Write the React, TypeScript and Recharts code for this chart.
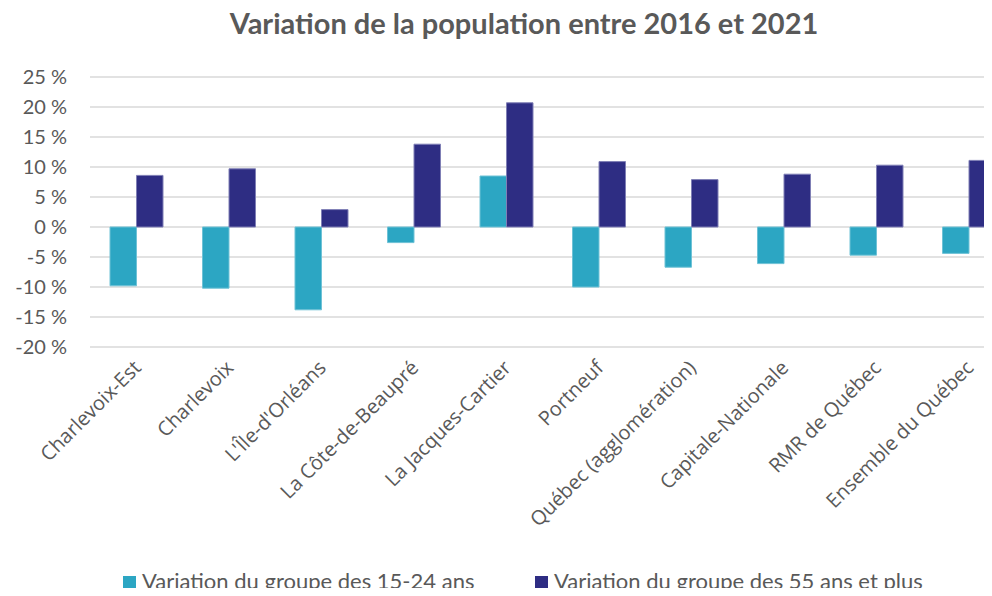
import { Bar, BarChart, CartesianGrid, XAxis, YAxis } from "recharts"

const categories = [
  "Charlevoix-Est",
  "Charlevoix",
  "L'Île-d'Orléans",
  "La Côte-de-Beaupré",
  "La Jacques-Cartier",
  "Portneuf",
  "Québec (agglomération)",
  "Capitale-Nationale",
  "RMR de Québec",
  "Ensemble du Québec",
]
const youth = [-9.8, -10.2, -13.8, -2.6, 8.5, -10.0, -6.7, -6.1, -4.7, -4.4]
const seniors = [8.6, 9.7, 2.9, 13.8, 20.7, 10.9, 7.9, 8.8, 10.3, 11.1]
const yTicks = [-20, -15, -10, -5, 0, 5, 10, 15, 20, 25]

const seriesNames = ["Variation du groupe des 15-24 ans", "Variation du groupe des 55 ans et plus"]
const LIGHT = "#2CA6C3"
const DARK = "#2E2D83"
const TEXT = "#595959"

const data = categories.map((name, i) => ({ name, youth: youth[i], seniors: seniors[i] }))

// rotated category label, anchored at its end
function CategoryTick({ x, y, payload }: any) {
  const ax = x + 6
  const ay = y + 22
  return (
    <text
      x={ax}
      y={ay}
      textAnchor="end"
      transform={`rotate(-45, ${ax}, ${ay})`}
      fill={TEXT}
      fontSize={20}
      fontFamily="'Open Sans', sans-serif"
    >
      {payload.value}
    </text>
  )
}

export default function App() {
  return (
    <div style={{ position: "relative", margin: -8, width: 992, height: 596, overflow: "hidden", background: "#fff" }}>
      <div
        style={{
          position: "absolute",
          top: 5,
          left: 0,
          width: 1048,
          textAlign: "center",
          fontFamily: "Lato, sans-serif",
          fontWeight: 700,
          fontSize: 29,
          color: TEXT,
        }}
      >
        Variation de la population entre 2016 et 2021
      </div>
      <BarChart
        width={1015}
        height={596}
        data={data}
        margin={{ top: 77, right: 0, left: 0, bottom: 0 }}
        barGap={0}
        barSize={26.5}
      >
        <CartesianGrid vertical={false} stroke="#D9D9D9" strokeWidth={1.3} />
        <XAxis
          dataKey="name"
          interval={0}
          axisLine={false}
          tickLine={false}
          tickSize={0}
          tickMargin={0}
          height={249}
          tick={<CategoryTick />}
        />
        <YAxis
          domain={[-20, 25]}
          ticks={yTicks}
          width={90}
          axisLine={false}
          tickLine={false}
          tickSize={0}
          tickMargin={23}
          tickFormatter={(v: number) => `${v} %`}
          tick={{ fill: TEXT, fontSize: 20, fontFamily: "Lato, sans-serif" }}
        />
        <Bar dataKey="youth" fill={LIGHT} stroke="#6FC2D6" strokeWidth={1} isAnimationActive={false} />
        <Bar dataKey="seniors" fill={DARK} stroke="#7F7FB5" strokeWidth={1} isAnimationActive={false} />
      </BarChart>
      <div
        style={{
          position: "absolute",
          top: 568,
          left: 0,
          width: 992,
          fontFamily: "Lato, sans-serif",
          fontSize: 22,
          lineHeight: "26px",
          color: TEXT,
        }}
      >
        {seriesNames.map((n, i) => (
          <div key={n} style={{ position: "absolute", left: i === 0 ? 123 : 535, top: 0, display: "flex", alignItems: "center", whiteSpace: "nowrap" }}>
            <span style={{ display: "inline-block", width: 13, height: 13, background: i === 0 ? LIGHT : DARK, marginRight: 6, marginTop: 3 }} />
            {n}
          </div>
        ))}
      </div>
    </div>
  )
}
